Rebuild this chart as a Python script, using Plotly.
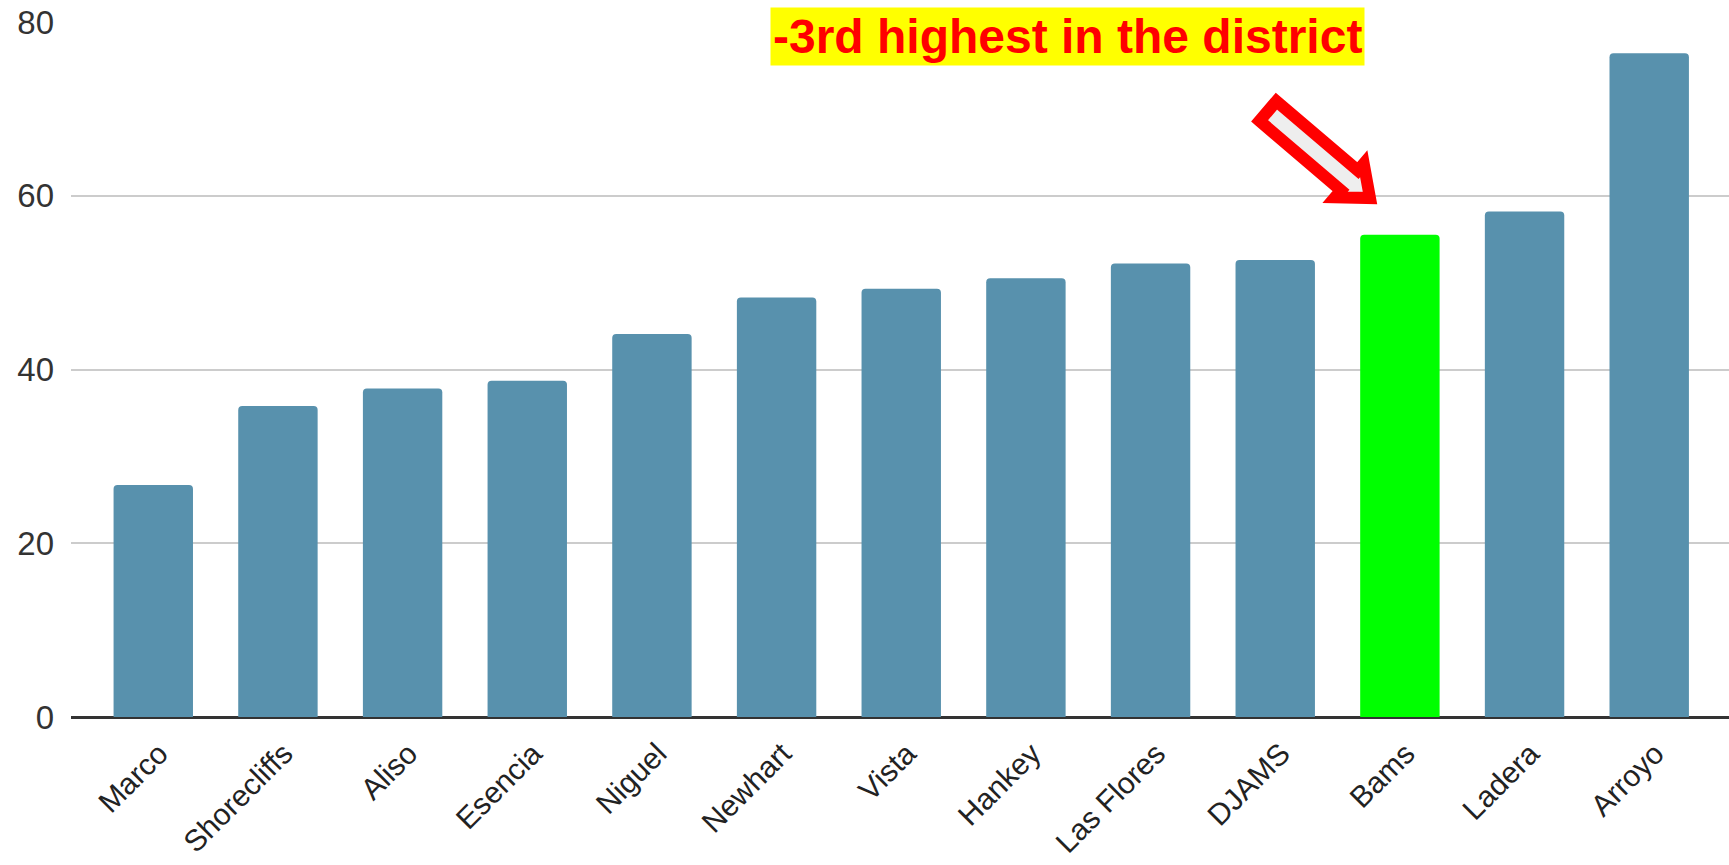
import plotly.graph_objects as go
import math

schools = ["Marco", "Shorecliffs", "Aliso", "Esencia", "Niguel", "Newhart", "Vista",
           "Hankey", "Las Flores", "DJAMS", "Bams", "Ladera", "Arroyo"]
values = [26.7, 35.8, 37.8, 38.7, 44.1, 48.3, 49.3, 50.5, 52.2, 52.6, 55.5, 58.2, 76.4]
highlight = "Bams"
y_ticks = [0, 20, 40, 60, 80]
note_text = "-3rd highest in the district"

W, H = 1729, 865
L, R, T, B = 71, 0, 22, 148
PW, PH = W - L - R, H - T - B

blue = "#5891ad"
green = "#00ff00"
colors = [green if s == highlight else blue for s in schools]

fig = go.Figure()
fig.add_trace(go.Bar(x=schools, y=values, marker=dict(color=colors, line=dict(width=0),
                                                      cornerradius=4),
                     hoverinfo="x+y"))

# arrow outline (decoration), defined in pixels then converted to paper coords
def px2paper(px, py):
    return ((px - L) / PW, 1 - (py - T) / PH)

tail = (1268.0, 111.0)
tip = (1370.0, 198.0)
dx, dy = tip[0] - tail[0], tip[1] - tail[1]
ln = math.hypot(dx, dy)
ux, uy = dx / ln, dy / ln
nx, ny = -uy, ux
sw = 13.0   # shaft half width
hw = 22.0   # head half width
hl = 27.0   # head length
bx, by = tip[0] - ux * hl, tip[1] - uy * hl
pts = [
    (tail[0] + nx * sw, tail[1] + ny * sw),
    (bx + nx * sw, by + ny * sw),
    (bx + nx * hw, by + ny * hw),
    tip,
    (bx - nx * hw, by - ny * hw),
    (bx - nx * sw, by - ny * sw),
    (tail[0] - nx * sw, tail[1] - ny * sw),
]
pp = [px2paper(*p) for p in pts]
path = "M " + " L ".join(f"{x:.5f},{y:.5f}" for x, y in pp) + " Z"
fig.add_shape(type="path", path=path, xref="paper", yref="paper",
              fillcolor="#eeeeee", line=dict(color="#ff0000", width=12), layer="above")

ax, ay = px2paper(1067, 36.5)
fig.add_annotation(text=f"<b>{note_text}</b>", xref="paper", yref="paper", x=ax, y=ay,
                   xanchor="center", yanchor="middle", showarrow=False,
                   font=dict(family="Liberation Sans, Arial, sans-serif", size=48, color="#ff0000"),
                   bgcolor="#ffff00", borderpad=2)

fig.update_layout(
    width=W, height=H,
    margin=dict(l=L, r=R, t=T, b=B, pad=0),
    paper_bgcolor="white", plot_bgcolor="white",
    bargap=0.363,
    showlegend=False,
    font=dict(family="Liberation Sans, Arial, sans-serif", color="#222222"),
    xaxis=dict(range=[-0.66, 12.64], tickangle=-45, tickfont=dict(size=30, color="#222222"),
               showgrid=False, showline=False, ticks="", automargin=False,
               ticklabelstandoff=12, ticklabelshift=6),
    yaxis=dict(range=[0, 80], tickvals=y_ticks, tickfont=dict(size=33, color="#333333"),
               showgrid=True, gridcolor="#cccccc", gridwidth=2,
               zeroline=True, zerolinecolor="#333333", zerolinewidth=3,
               ticks="", ticklabelstandoff=16, showline=False, automargin=False),
)

fig.write_html("out.html", config={"displayModeBar": False},
               post_script="document.body.style.margin='0px';document.body.style.overflow='hidden';")
